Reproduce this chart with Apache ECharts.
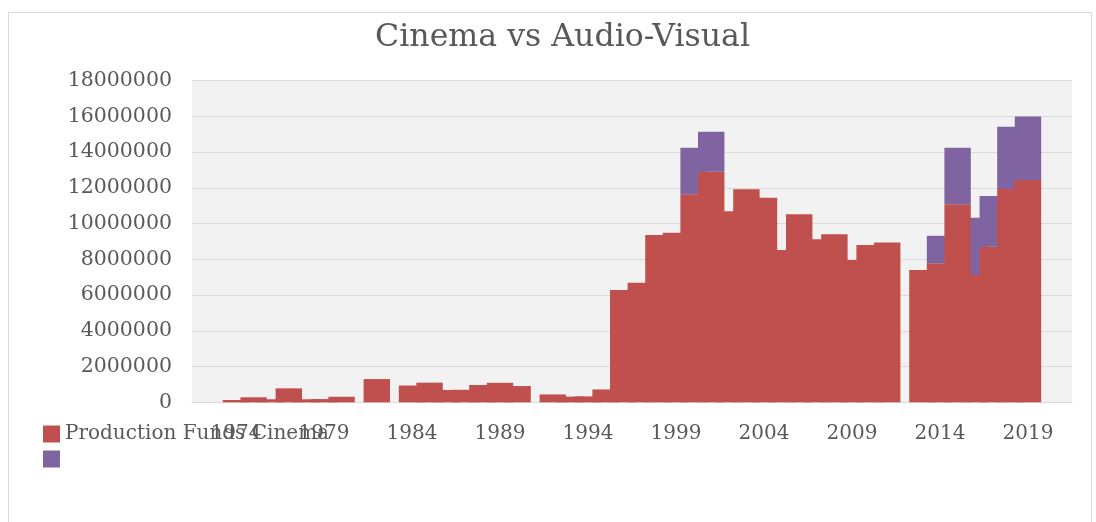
<!DOCTYPE html>
<html>

<head>
    <meta charset="utf-8">
    <title>Cinema vs Audio-Visual</title>
    <script src="https://cdn.jsdelivr.net/npm/echarts@6/dist/echarts.min.js"></script>
    <style>
        body {
            margin: 0;
            background: #fff;
        }

        #chart {
            width: 1096px;
            height: 522px;
        }
    </style>
</head>

<body>
    <div id="chart"></div>

    <script>
        // years on the axis (1972 - 2021, the first two and last two are empty)
        var years = [];
        for (var y = 1972; y <= 2021; y++) years.push(String(y));

        // production funds, cinema (red) - null = no bar
        var cinema = [
            null, null, 130000, 280000, 170000, 780000, 170000, 180000, 310000, null,
            1300000, null, 940000, 1100000, 690000, 700000, 970000, 1090000, 910000, null,
            440000, 320000, 330000, 720000, 6280000, 6690000, 9360000, 9490000, 11640000, 12900000,
            10700000, 11920000, 11450000, 8520000, 10520000, 9120000, 9400000, 7960000, 8800000, 8950000,
            null, 7400000, 7780000, 11080000, 7120000, 8710000, 11940000, 12440000, null, null
        ];

        // audio-visual part stacked on top (purple)
        var audioVisual = [
            null, null, null, null, null, null, null, null, null, null,
            null, null, null, null, null, null, null, null, null, null,
            null, null, null, null, null, null, null, null, 2610000, 2240000,
            null, null, null, null, null, null, null, null, null, null,
            null, null, 1540000, 3170000, 3210000, 2830000, 3480000, 3550000, null, null
        ];

        var legendNames = ['Production Funds Cinema', ' '];

        var textColor = '#595959';
        var serif = 'DejaVu Serif';

        // build [index, low, high, total] items
        function segs(which) {
            var out = [];
            years.forEach(function (yr, i) {
                var c = cinema[i] || 0;
                var a = audioVisual[i] || 0;
                if (!c && !a) return;
                if (which === 0 && c) out.push([i, 0, c, c + a]);
                if (which === 1 && a) out.push([i, c, c + a, c + a]);
            });
            return out;
        }

        // bars are 1.5 categories wide, the taller one on top
        function barRender(color) {
            return function (params, api) {
                var lo = api.coord([api.value(0), api.value(1)]);
                var hi = api.coord([api.value(0), api.value(2)]);
                var w = api.size([1, 0])[0] * 1.5;
                return {
                    type: 'rect',
                    shape: { x: lo[0] - w / 2, y: hi[1], width: w, height: lo[1] - hi[1] },
                    style: { fill: color },
                    z2: Math.round(api.value(3) / 1000)
                };
            };
        }

        var myChart = echarts.init(document.getElementById('chart'));

        var option = {
            animation: false,
            backgroundColor: '#fff',
            title: {
                text: 'Cinema vs Audio-Visual',
                left: 370,
                top: 17,
                textStyle: { fontFamily: serif, fontSize: 31.6, fontWeight: 'normal', color: textColor }
            },
            legend: {
                orient: 'vertical',
                left: 38,
                top: 419,
                itemWidth: 17,
                itemHeight: 17,
                itemGap: 5,
                icon: 'rect',
                data: legendNames,
                textStyle: { fontFamily: serif, fontSize: 20, color: textColor }
            },
            graphic: [{
                type: 'rect',
                shape: { x: 8.5, y: 12.5, width: 1083, height: 520 },
                style: { fill: 'none', stroke: '#d9d9d9', lineWidth: 1 },
                silent: true
            }],
            grid: {
                left: 192,
                right: 24,
                top: 80.7,
                bottom: 119.7,
                show: true,
                backgroundColor: '#f2f2f2',
                borderWidth: 0
            },
            xAxis: {
                type: 'category',
                data: years,
                axisLine: { lineStyle: { color: '#d9d9d9' } },
                axisTick: { show: false },
                axisLabel: {
                    interval: function (idx, val) { return (Number(val) - 1974) % 5 === 0; },
                    margin: 21,
                    fontFamily: serif,
                    fontSize: 20,
                    color: textColor
                },
                splitLine: { show: false }
            },
            yAxis: {
                type: 'value',
                min: 0,
                max: 18000000,
                interval: 2000000,
                axisLine: { show: false },
                axisTick: { show: false },
                axisLabel: {
                    margin: 20,
                    fontFamily: serif,
                    fontSize: 20.5,
                    color: textColor,
                    formatter: function (v) { return String(v); }
                },
                splitLine: { lineStyle: { color: '#d9d9d9', width: 1 } }
            },
            series: [{
                name: legendNames[0],
                type: 'custom',
                itemStyle: { color: '#c0504d' },
                encode: { x: 0, y: [1, 2] },
                renderItem: barRender('#c0504d'),
                data: segs(0)
            }, {
                name: legendNames[1],
                type: 'custom',
                itemStyle: { color: '#8064a2' },
                encode: { x: 0, y: [1, 2] },
                renderItem: barRender('#8064a2'),
                data: segs(1)
            }]
        };

        myChart.setOption(option);
    </script>
</body>

</html>
